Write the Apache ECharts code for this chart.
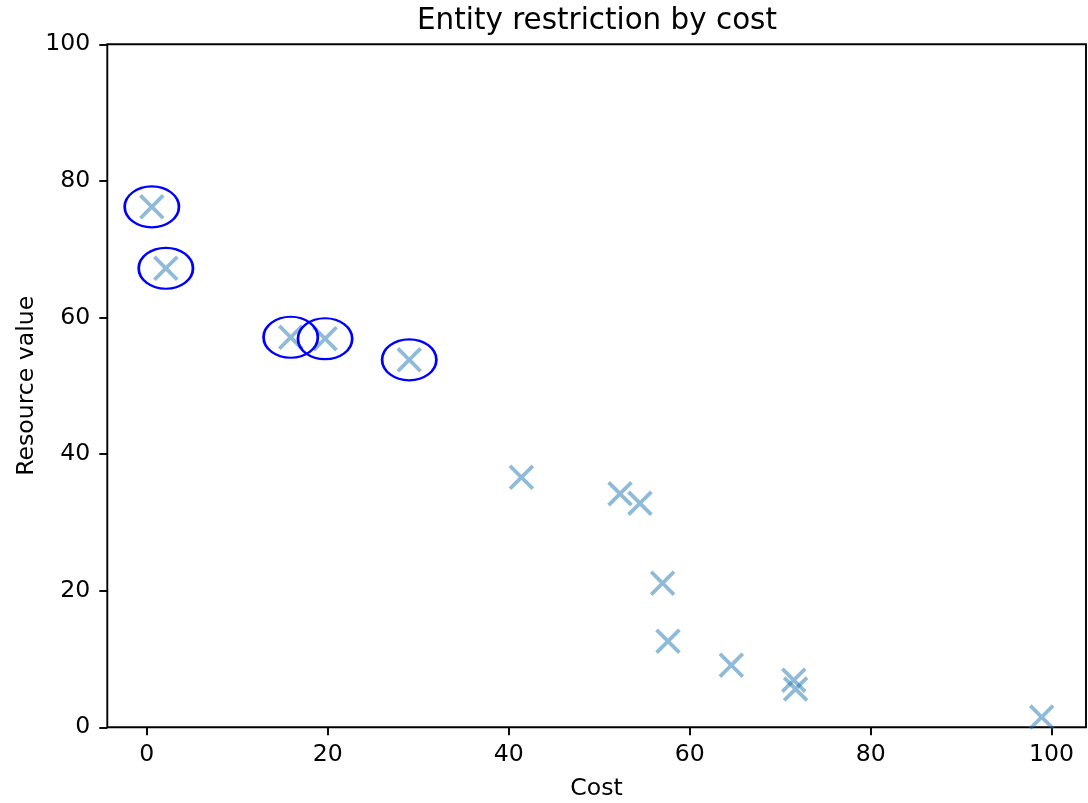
<!DOCTYPE html>
<html>
<head>
<meta charset="utf-8">
<title>Entity restriction by cost</title>
<script src="https://cdn.jsdelivr.net/npm/echarts@6/dist/echarts.min.js"></script>
<style>
  html, body { margin: 0; padding: 0; background: #fff; }
  #chart { width: 1088px; height: 803px; }
</style>
</head>
<body>
<div id="chart"></div>
<script>
// Entities: cost versus resource value
const costs = [0.55, 2.1, 15.9, 19.7, 29.0, 41.4, 52.3, 54.5, 57.0, 57.6, 64.6, 71.5, 71.7, 98.9];
const resourceValues = [76.2, 67.2, 57.1, 56.9, 53.8, 36.6, 34.2, 32.8, 21.1, 12.6, 9.1, 6.9, 5.6, 1.5];
// entities kept by the restriction (circled)
const selected = [true, true, true, true, true, false, false, false, false, false, false, false, false, false];

const xTicks = [0, 20, 40, 60, 80, 100];
const yTicks = [0, 20, 40, 60, 80, 100];

const titleText = 'Entity restriction by cost';
const xName = 'Cost';
const yName = 'Resource value';

const points = costs.map((c, i) => [c, resourceValues[i]]);
const circled = points.filter((p, i) => selected[i]);

const FONT = 'DejaVu Sans';
const grid = { left: 107.3, right: 2, top: 44.3, bottom: 75.7 };
const xMin = -4.37, xMax = 103.8;

// "x" marker drawn as a single outline so overlapping arms are filled once
const B = 100, d = 10.5, h = B / 2;
const crossPath = 'path://M0,' + d + 'L' + d + ',0L' + h + ',' + (h - d) + 'L' + (B - d) + ',0L' + B + ',' + d +
  'L' + (h + d) + ',' + h + 'L' + B + ',' + (B - d) + 'L' + (B - d) + ',' + B + 'L' + h + ',' + (h + d) +
  'L' + d + ',' + B + 'L0,' + (B - d) + 'L' + (h - d) + ',' + h + 'Z';

const chart = echarts.init(document.getElementById('chart'));

const plotW = 1088 - grid.left - grid.right;
const plotH = 803 - grid.top - grid.bottom;
// circles of radius 3 in data units become ellipses on screen
const ringW = 6 * plotW / (xMax - xMin);
const ringH = 6 * plotH / 100;

chart.setOption({
  animation: false,
  backgroundColor: '#ffffff',
  textStyle: { fontFamily: FONT },
  grid: Object.assign({ show: true, borderColor: '#000', borderWidth: 1.9, backgroundColor: 'transparent' }, grid),
  xAxis: {
    type: 'value',
    min: xMin,
    max: xMax,
    axisLine: { show: false, onZero: false },
    splitLine: { show: false },
    axisTick: { show: true, length: 8, customValues: xTicks, lineStyle: { color: '#000', width: 1.9 } },
    axisLabel: { customValues: xTicks, margin: 16, fontFamily: FONT, fontSize: 23.6, color: '#000' }
  },
  yAxis: {
    type: 'value',
    min: 0,
    max: 100,
    interval: 20,
    axisLine: { show: false, onZero: false },
    splitLine: { show: false },
    axisTick: { show: true, length: 8, customValues: yTicks, lineStyle: { color: '#000', width: 1.9 } },
    axisLabel: { customValues: yTicks, margin: 17, fontFamily: FONT, fontSize: 23.6, color: '#000' }
  },
  graphic: [
    { type: 'text', x: 597, y: 21, style: { text: titleText, font: '29.4px "DejaVu Sans"', fill: '#000', align: 'center', verticalAlign: 'middle' } },
    { type: 'text', x: 596.6, y: 788.4, style: { text: xName, font: '23.6px "DejaVu Sans"', fill: '#000', align: 'center', verticalAlign: 'middle' } },
    { type: 'text', x: 27, y: 385.8, rotation: Math.PI / 2, style: { text: yName, font: '23.6px "DejaVu Sans"', fill: '#000', align: 'center', verticalAlign: 'middle' } }
  ],
  series: [
    {
      type: 'scatter',
      data: points,
      symbol: crossPath,
      symbolSize: 25.5,
      itemStyle: { color: '#1f77b4', opacity: 0.5 },
      emphasis: { disabled: true },
      silent: true,
      z: 2
    },
    {
      type: 'scatter',
      data: circled,
      symbol: 'circle',
      symbolSize: [ringW, ringH],
      itemStyle: { color: 'transparent', borderColor: '#0000ff', borderWidth: 2.4, opacity: 1 },
      emphasis: { disabled: true },
      silent: true,
      z: 3
    }
  ]
});
</script>
</body>
</html>
